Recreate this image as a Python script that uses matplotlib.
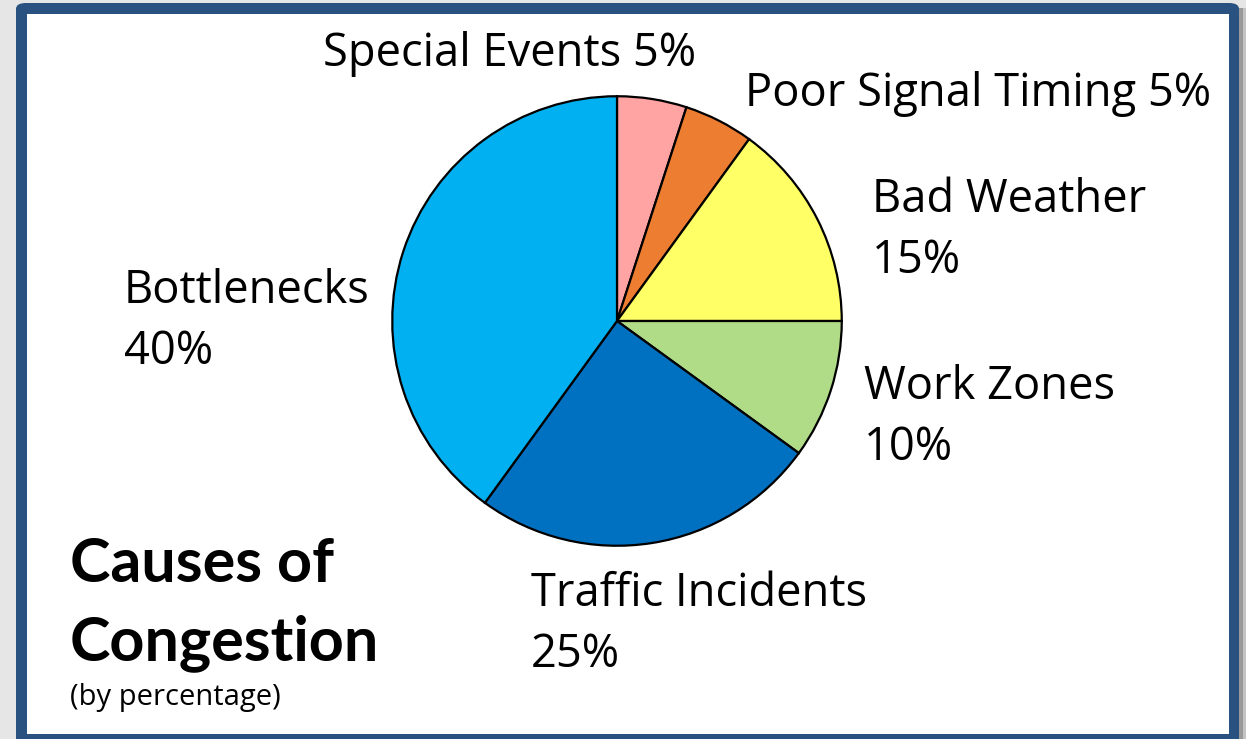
import matplotlib.pyplot as plt
from matplotlib.patches import Rectangle, FancyBboxPatch

W, H = 1246, 739

causes = ["Special Events", "Poor Signal Timing", "Bad Weather",
          "Work Zones", "Traffic Incidents", "Bottlenecks"]
shares = [5, 5, 15, 10, 25, 40]
colors = ["#FFA3A3", "#ED7D31", "#FFFF66", "#B0DB87", "#0070C0", "#00B0F0"]

plt.rcParams['font.family'] = ['Open Sans', 'DejaVu Sans']

fig = plt.figure(figsize=(W / 100, H / 100), dpi=100)
fig.patch.set_facecolor("#E6E6E6")


def fx(x):
    return x / W


def fy(y):
    # y measured from the top edge in pixels
    return 1 - y / H


def box(x0, y0, x1, y1, color, z=0):
    fig.add_artist(Rectangle((fx(x0), fy(y1)), fx(x1) - fx(x0), fy(y0) - fy(y1),
                             transform=fig.transFigure, facecolor=color,
                             edgecolor="none", zorder=z))


# panel with dark blue frame and a soft shadow on the right
box(1239, 8, 1243, 760, "#9A9A9A")
box(1243, 8, 1246, 760, "#C4C4C4")
fig.add_artist(FancyBboxPatch((fx(16), fy(760)), fx(1239) - fx(16), fy(3) - fy(760),
                              boxstyle="round,pad=0,rounding_size=0.008",
                              transform=fig.transFigure, facecolor="#2A5280",
                              edgecolor="none", zorder=0))
box(27, 14, 1229, 734, "white", z=0)

# pie: center (617, 321), radius 227 px
ax = fig.add_axes([fx(390), fy(548), fx(844) - fx(390), fy(94) - fy(548)])
ax.pie(shares, colors=colors, startangle=90, counterclock=False, radius=1,
       wedgeprops=dict(edgecolor="black", linewidth=1.6))
ax.set_xlim(-1.01, 1.01)
ax.set_ylim(-1.01, 1.01)
ax.set_axis_off()

fs = 32.6
labels = [
    ("Special Events 5%", 323, 66),
    ("Poor Signal Timing 5%", 745, 106),
    ("Bad Weather\n15%", 872, 212),
    ("Work Zones\n10%", 864, 399),
    ("Traffic Incidents\n25%", 531, 606),
    ("Bottlenecks\n40%", 124, 303),
]
for text, x, y in labels:
    lines = text.split("\n")
    for i, line in enumerate(lines):
        fig.text(fx(x), fy(y + i * 61), line, fontsize=fs, color="black",
                 ha="left", va="baseline")

title_font = ['Lato', 'DejaVu Sans']
fig.text(fx(70), fy(582), "Causes of", fontsize=44, fontweight="bold",
         family=title_font, ha="left", va="baseline")
fig.text(fx(70), fy(660), "Congestion", fontsize=44, fontweight="bold",
         family=title_font, ha="left", va="baseline")
fig.text(fx(70), fy(705), "(by percentage)", fontsize=21,
         ha="left", va="baseline")

fig.savefig("out.png", dpi=100)
